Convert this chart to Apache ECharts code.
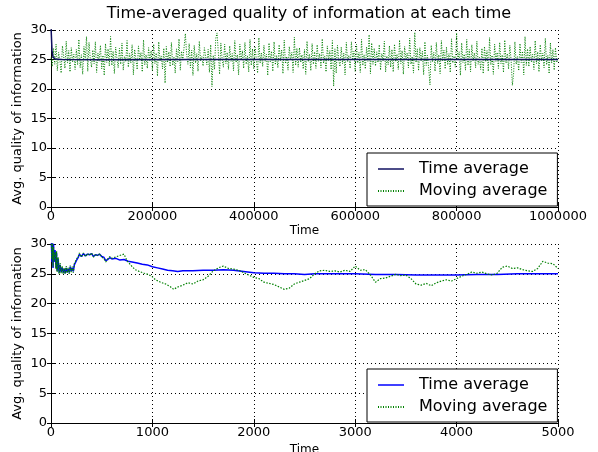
<!DOCTYPE html>
<html>
<head>
<meta charset="utf-8">
<script src="https://cdn.jsdelivr.net/npm/echarts@6/dist/echarts.min.js"></script>
<style>
  html, body { margin: 0; padding: 0; background: #fff; }
  #chart { width: 598px; height: 452px; }
</style>
</head>
<body>
<div id="chart"></div>
<script>
// top panel: full run, 0..1000000
var topAvgTime = [0, 2000, 4000, 8000, 20000, 100000, 300000, 500000, 700000, 1000000];
var topAvgVal  = [30.6, 26.5, 25.4, 25.1, 25.0, 24.95, 25.0, 24.98, 25.0, 25.0];

var topMovStep = 2500;
var topMovVal = [
  25.3, 23.8, 26.9, 24.2, 27.6, 23.1, 26.2, 24.9, 22.7, 27.3, 25.6, 23.5, 28.1, 24.4, 26.5, 22.9, 27.0, 24.6, 25.9, 23.3,
  26.7, 24.1, 28.4, 23.6, 25.8, 22.5, 27.2, 24.8, 28.9, 23.0, 27.9, 25.1, 23.7, 26.6, 24.3, 28.0, 22.8, 26.1, 24.7, 27.4,
  23.4, 25.7, 22.3, 27.7, 24.5, 26.8, 23.9, 28.9, 24.0, 26.4, 22.6, 27.1, 25.2, 23.6, 26.9, 24.2, 27.8, 23.2, 25.5, 24.6,
  28.2, 23.7, 26.0, 24.4, 27.5, 22.4, 26.7, 25.0, 23.3, 27.3, 24.9, 26.2, 22.9, 28.3, 24.1, 25.8, 23.5, 27.0, 24.7, 26.5,
  23.1, 27.6, 24.3, 26.1, 22.2, 28.0, 24.8, 25.6, 23.4, 26.9, 21.0, 27.2, 24.5, 26.3, 23.8, 27.9, 24.0, 25.4, 22.7, 26.8,
  24.6, 28.5, 23.2, 26.4, 24.9, 27.1, 29.4, 25.9, 24.2, 27.7, 23.6, 26.6, 22.3, 27.4, 24.4, 26.0, 23.0, 28.1, 24.8, 25.5,
  23.9, 27.0, 27.0, 24.1, 26.7, 22.8, 27.5, 20.4, 25.7, 23.3, 28.6, 29.5, 26.3, 22.5, 27.8, 25.1, 23.7, 27.6, 24.3, 26.2,
  23.3, 27.3, 24.7, 26.0, 23.1, 28.2, 24.5, 25.8, 22.4, 27.6, 24.9, 26.5, 23.5, 27.9, 24.2, 25.6, 22.9, 28.4, 24.0, 26.8,
  23.4, 27.1, 25.0, 22.7, 28.7, 24.4, 26.1, 23.8, 27.4, 24.7, 25.9, 22.3, 27.8, 24.6, 26.4, 23.0, 28.0, 24.1, 25.7, 23.6,
  27.5, 24.8, 26.6, 22.6, 28.3, 24.3, 25.5, 23.2, 27.2, 24.9, 26.2, 22.8, 28.8, 24.0, 26.9, 23.7, 27.0, 24.5, 25.8, 23.4,
  26.7, 22.5, 28.1, 24.6, 25.9, 23.1, 27.7, 24.2, 26.3, 23.5, 27.5, 24.7, 26.0, 23.6, 28.5, 24.4, 25.6, 22.9, 27.3, 24.8,
  26.5, 23.3, 28.2, 20.5, 26.8, 22.7, 27.4, 25.0, 23.8, 27.1, 24.3, 26.1, 22.4, 27.9, 24.6, 25.7, 23.5, 28.0, 24.9, 26.4,
  23.0, 27.6, 24.4, 26.2, 22.8, 28.4, 24.0, 25.8, 23.4, 27.1, 24.7, 29.2, 22.6, 27.8, 24.2, 26.9, 23.9, 26.3, 24.5, 27.5,
  23.2, 26.0, 24.8, 28.1, 22.9, 25.6, 24.1, 27.3, 23.7, 26.7, 22.9, 27.6, 24.6, 25.9, 23.3, 28.3, 24.3, 26.5, 22.5, 27.2,
  24.9, 26.1, 23.6, 28.6, 24.2, 25.5, 22.7, 29.6, 24.5, 26.8, 23.1, 27.0, 24.8, 26.4, 22.4, 28.0, 24.0, 25.7, 23.5, 20.7,
  27.4, 24.6, 26.2, 23.0, 27.9, 24.3, 25.8, 22.6, 28.2, 24.7, 26.6, 23.4, 27.1, 24.1, 26.0, 22.8, 28.5, 24.4, 25.6, 23.7,
  29.5, 24.9, 26.3, 22.3, 27.8, 24.5, 25.9, 23.2, 28.4, 24.0, 26.7, 22.9, 27.5, 24.8, 26.1, 23.6, 28.1, 24.2, 25.4, 23.3,
  26.9, 22.6, 27.2, 24.6, 26.5, 23.0, 28.7, 24.1, 25.7, 22.5, 27.6, 24.7, 26.2, 23.5, 27.9, 24.3, 25.8, 22.8, 28.3, 24.4,
  26.0, 23.4, 27.4, 24.9, 20.6, 22.7, 28.0, 24.2, 25.5, 23.1, 27.7, 24.5, 26.4, 22.4, 28.9, 24.0, 26.8, 23.8, 27.2, 24.6,
  25.9, 23.3, 28.2, 24.3, 26.3, 22.9, 27.5, 24.8, 26.1, 23.6, 28.6, 24.1, 25.7, 22.6, 27.8, 24.4, 26.7, 23.2, 27.0, 24.5,
  25.1
];

// bottom panel: first 5000 steps
var botAvgTime = [0, 10, 15, 20, 25, 30, 40, 50, 55, 60, 70, 80, 90, 100, 110, 120, 130, 140, 150, 160, 170, 180, 190, 200,
  210, 220, 230, 240, 250, 260, 270, 280, 300, 320, 340, 360, 380, 400, 420, 440, 460, 480, 500, 520, 540, 560, 580, 600,
  640, 680, 720, 760, 800, 850, 900, 950, 1000, 1050, 1100, 1150, 1200, 1250, 1300, 1400, 1500, 1600, 1700, 1800, 1900,
  2000, 2100, 2200, 2300, 2400, 2500, 2600, 2700, 2800, 3000, 3200, 3400, 3600, 3800, 4000, 4200, 4400, 4600, 4800, 5000];
var botAvgVal = [32, 27, 31, 26, 30, 27, 29, 26, 28.5, 25.5, 27.5, 25.2, 26.5, 25.3, 26, 25.2, 25.8, 25.1, 26, 25.3, 25.8, 25.2, 26.2, 25.5,
  26, 25.4, 26.5, 26.8, 27.2, 27.5, 27.8, 28.3, 27.9, 28.4, 28.0, 28.3, 28.2, 28.4, 27.9, 28.2, 28.1, 28.3, 27.9, 27.8, 27.2, 27.4, 27.7, 27.5,
  27.6, 27.3, 27.4, 27.1, 27.0, 26.8, 26.6, 26.5, 26.2, 26.0, 25.8, 25.6, 25.5, 25.4, 25.5, 25.5, 25.6, 25.6, 25.7, 25.6, 25.4,
  25.2, 25.1, 25.1, 25.0, 25.0, 24.9, 25.0, 25.0, 25.0, 25.0, 24.9, 24.9, 24.8, 24.8, 24.8, 24.9, 24.9, 25.0, 25.0, 25.0];

var botMovTime = [0, 10, 15, 20, 25, 30, 40, 50, 55, 60, 70, 80, 90, 100, 110, 120, 130, 140, 150, 160, 170, 180, 190, 200,
  210, 220, 230, 240, 250, 260, 270, 280, 300, 320, 340, 360, 380, 400, 420, 440, 460, 480, 500, 520, 540, 560, 580, 600,
  650, 700, 720, 750, 800, 830, 870, 920, 960, 1000, 1030, 1080, 1130, 1180, 1210, 1250, 1300, 1350, 1400, 1450, 1500,
  1550, 1600, 1650, 1700, 1750, 1800, 1850, 1900, 1950, 2000, 2050, 2100, 2150, 2200, 2250, 2300, 2350, 2400, 2450,
  2500, 2550, 2600, 2650, 2700, 2750, 2800, 2850, 2900, 2950, 3000, 3050, 3100, 3150, 3200, 3250, 3300, 3350, 3400,
  3450, 3500, 3550, 3600, 3650, 3700, 3750, 3800, 3850, 3900, 3950, 4000, 4050, 4100, 4150, 4200, 4250, 4300, 4350,
  4400, 4450, 4500, 4550, 4600, 4650, 4700, 4750, 4800, 4850, 4900, 4950, 5000];
var botMovVal = [31.5, 27.5, 30.5, 26.2, 29.5, 27.2, 28.6, 25.8, 28.8, 25.3, 27.8, 25.0, 26.8, 25.1, 26.3, 25.0, 26.0, 25.0, 26.3, 25.1, 26.0, 25.0, 26.4, 25.3,
  26.2, 25.2, 26.7, 26.9, 27.4, 27.3, 28.0, 28.5, 27.8, 28.5, 27.9, 28.4, 28.1, 28.5, 27.8, 28.3, 28.0, 28.4, 27.8, 27.6, 27.0, 27.5, 27.9, 27.6,
  27.9, 28.2, 28.3, 27.2, 26.2, 25.7, 25.4, 25.1, 24.9, 24.5, 24.0, 23.6, 23.3, 22.8, 22.4, 22.8, 23.1, 23.5, 23.3, 23.8, 24.0,
  24.6, 25.5, 26.0, 26.3, 25.9, 25.8, 25.6, 25.2, 24.8, 24.4, 24.2, 23.6, 23.4, 23.2, 22.8, 22.4, 22.6, 23.3, 23.6,
  23.9, 24.2, 25.0, 25.5, 25.6, 25.4, 25.5, 25.3, 25.6, 25.4, 26.3, 25.6, 25.7, 24.8, 23.6, 24.2, 24.3, 24.6, 24.9,
  24.7, 24.8, 24.2, 23.3, 23.1, 23.4, 23.0, 23.5, 23.8, 24.0, 23.8, 24.2, 24.6, 24.9, 25.3, 25.1, 25.3, 25.0, 24.8,
  25.1, 26.1, 26.3, 25.9, 26.0, 25.7, 25.5, 25.4, 25.9, 27.1, 26.8, 26.7, 25.9];

var legendNames = ["Time average", "Moving average"];

function pairs(xs, ys) {
    var out = [];
    for (var i = 0; i < ys.length; i++) out.push([xs[i], ys[i]]);
    return out;
}
var topMovTime = topMovVal.map(function (v, i) { return i * topMovStep; });

var font = "DejaVu Sans";
var gridLine = { show: true, lineStyle: { color: "#000", type: [1, 3], width: 1 } };
var tickIn = { show: true, inside: true, length: 4, lineStyle: { color: "#000" } };
var plain = function (v) { return String(v); };

function xMain(gridIndex, max, interval, gap) {
    return {
        type: "value", gridIndex: gridIndex, min: 0, max: max, interval: interval,
        name: "Time", nameLocation: "middle", nameGap: gap,
        nameTextStyle: { fontFamily: font, fontSize: 12, color: "#000" },
        axisLine: { show: true, lineStyle: { color: "#000" } },
        axisTick: tickIn, splitLine: gridLine,
        axisLabel: { fontFamily: font, fontSize: 13, color: "#000", margin: 3, formatter: plain }
    };
}
function xTop(gridIndex, max, interval) {
    return {
        type: "value", gridIndex: gridIndex, min: 0, max: max, interval: interval, position: "top",
        axisLine: { show: true, lineStyle: { color: "#000" } },
        axisTick: tickIn, splitLine: { show: false }, axisLabel: { show: false }
    };
}
function yMain(gridIndex) {
    return {
        type: "value", gridIndex: gridIndex, min: 0, max: 30, interval: 5,
        name: "Avg. quality of information", nameLocation: "middle", nameGap: 27, nameMoveOverlap: false,
        nameTextStyle: { fontFamily: font, fontSize: 13, color: "#000" },
        axisLine: { show: true, lineStyle: { color: "#000" } },
        axisTick: tickIn, splitLine: gridLine,
        axisLabel: { fontFamily: font, fontSize: 13, color: "#000", margin: 4, formatter: plain }
    };
}
function yRight(gridIndex) {
    return {
        type: "value", gridIndex: gridIndex, min: 0, max: 30, interval: 5, position: "right",
        axisLine: { show: true, lineStyle: { color: "#000" } },
        axisTick: tickIn, splitLine: { show: false }, axisLabel: { show: false }
    };
}
function legendBox(top, avgColor) {
    return {
        orient: "vertical", left: 367, top: top,
        padding: [8, 10, 7, 10], itemGap: 6, itemWidth: 26, itemHeight: 14,
        borderColor: "#000", borderWidth: 1, backgroundColor: "#fff",
        itemStyle: { opacity: 0 },
        textStyle: { fontFamily: font, fontSize: 16, color: "#000", padding: [0, 0, 0, 10] },
        data: [
            { name: legendNames[0], itemStyle: { opacity: 0 }, lineStyle: { color: avgColor, width: 1.5 } },
            { name: legendNames[1], itemStyle: { opacity: 0 } }
        ]
    };
}

var chart = echarts.init(document.getElementById("chart"));
chart.setOption({
    animation: false,
    backgroundColor: "#fff",
    title: {
        text: "Time-averaged quality of information at each time",
        left: 304, top: 1, textAlign: "center",
        textStyle: { fontFamily: font, fontSize: 16, fontWeight: "normal", color: "#000" }
    },
    grid: [
        { left: 51, top: 30, width: 507, height: 177, outerBoundsMode: "none" },
        { left: 51, top: 244, width: 507, height: 179, outerBoundsMode: "none" }
    ],
    xAxis: [xMain(0, 1000000, 200000, 18), xTop(0, 1000000, 200000), xMain(1, 5000, 1000, 21), xTop(1, 5000, 1000)],
    yAxis: [yMain(0), yRight(0), yMain(1), yRight(1)],
    legend: [legendBox(153, "#101060"), legendBox(369, "#0000ff")],
    series: [
        {
            name: legendNames[0], type: "line", xAxisIndex: 0, yAxisIndex: 0, showSymbol: false, symbol: "none",
            data: pairs(topAvgTime, topAvgVal), lineStyle: { color: "#101060", width: 1.5 }, itemStyle: { color: "#101060" }, z: 3
        },
        {
            name: legendNames[1], type: "line", xAxisIndex: 0, yAxisIndex: 0, showSymbol: false, symbol: "none",
            data: pairs(topMovTime, topMovVal), lineStyle: { color: "#008000", width: 1, type: [1, 1.5] }, itemStyle: { color: "#008000" }, z: 2
        },
        {
            name: legendNames[0], type: "line", xAxisIndex: 2, yAxisIndex: 2, showSymbol: false, symbol: "none",
            data: pairs(botAvgTime, botAvgVal), lineStyle: { color: "#0000ff", width: 1.5 }, itemStyle: { color: "#0000ff" }, z: 2
        },
        {
            name: legendNames[1], type: "line", xAxisIndex: 2, yAxisIndex: 2, showSymbol: false, symbol: "none",
            data: pairs(botMovTime, botMovVal), lineStyle: { color: "#008000", width: 1.2, type: [1.5, 1.5] }, itemStyle: { color: "#008000" }, z: 3
        }
    ]
});
</script>
</body>
</html>
